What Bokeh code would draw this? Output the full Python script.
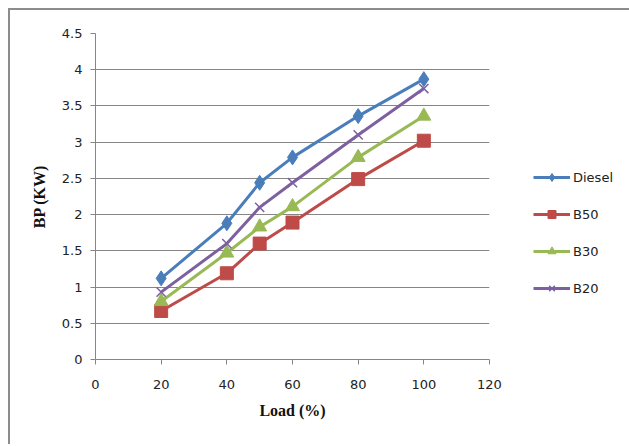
from bokeh.plotting import figure
from bokeh.models import Legend, LegendItem, FixedTicker
from bokeh.embed import file_html
from bokeh.resources import INLINE

# ---- data ----
load = [20, 40, 50, 60, 80, 100]
diesel = [1.12, 1.88, 2.44, 2.79, 3.36, 3.87]
b50 = [0.67, 1.19, 1.60, 1.89, 2.49, 3.02]
b30 = [0.80, 1.47, 1.83, 2.11, 2.79, 3.36]
b20 = [0.93, 1.60, 2.10, 2.44, 3.10, 3.74]

series_names = ["Diesel", "B50", "B30", "B20"]
series_values = [diesel, b50, b30, b20]
series_colors = ["#4A7EBB", "#BE4B48", "#98B954", "#7D60A0"]
series_markers = ["diamond", "square", "triangle", "x"]
series_sizes = [15, 13, 14, 13]

x_ticks = [0, 20, 40, 60, 80, 100, 120]
y_ticks = [0, 0.5, 1, 1.5, 2, 2.5, 3, 3.5, 4, 4.5]
y_tick_labels = ["0", "0.5", "1", "1.5", "2", "2.5", "3", "3.5", "4", "4.5"]

p = figure(frame_width=394, frame_height=326, output_backend="svg", toolbar_location=None,
           x_range=(0, 120), y_range=(0, 4.5),
           min_border_left=85, min_border_top=23, min_border_right=138, min_border_bottom=85)
p.styles = {"border-top": "2px solid #8c8c8c", "border-left": "2px solid #8c8c8c",
            "margin-left": "8px", "margin-top": "8px"}
p.outline_line_color = None
p.background_fill_color = "white"
p.border_fill_color = "white"

GRAY = "#868686"
p.xgrid.grid_line_color = None
p.ygrid.grid_line_color = GRAY
p.ygrid.grid_line_width = 1

p.xaxis.ticker = FixedTicker(ticks=x_ticks)
p.yaxis.ticker = FixedTicker(ticks=y_ticks)
p.yaxis.major_label_overrides = {t: l for t, l in zip(y_ticks, y_tick_labels)}

for ax in (p.xaxis, p.yaxis):
    ax.axis_line_color = GRAY
    ax.major_tick_line_color = GRAY
    ax.major_tick_out = 5
    ax.major_tick_in = 0
    ax.minor_tick_line_color = None
    ax.major_label_text_font = "DejaVu Sans"
    ax.major_label_text_font_size = "13px"
    ax.major_label_text_color = "#222222"
    ax.axis_label_text_font = "Liberation Serif"
    ax.axis_label_text_font_style = "bold"
    ax.axis_label_text_font_size = "16px"
    ax.axis_label_text_color = "#111111"

p.xaxis.axis_label = "Load (%)"
p.yaxis.axis_label = "BP (KW)"
p.xaxis.major_label_standoff = 15
p.yaxis.major_label_standoff = 8
p.xaxis.axis_label_standoff = 10
p.yaxis.axis_label_standoff = 11

items = []
for name, vals, col, mk, sz in zip(series_names, series_values, series_colors, series_markers, series_sizes):
    lr = p.line(load, vals, line_color=col, line_width=3)
    if mk == "x":
        sr = p.scatter(load, vals, marker=mk, size=sz, line_color=col, line_width=1.5)
    else:
        sr = p.scatter(load, vals, marker=mk, size=sz, fill_color=col, line_color=col)
    items.append(LegendItem(label=name, renderers=[lr, sr]))

legend = Legend(items=items, location=(44, 61), orientation="vertical",
                border_line_color=None, background_fill_alpha=0,
                padding=0, margin=0, spacing=17, glyph_height=20, glyph_width=37,
                label_standoff=3, label_text_font="DejaVu Sans", label_text_font_size="13px",
                label_text_color="#222222")
p.add_layout(legend, "right")

open("out.html", "w").write(file_html(p, INLINE))
